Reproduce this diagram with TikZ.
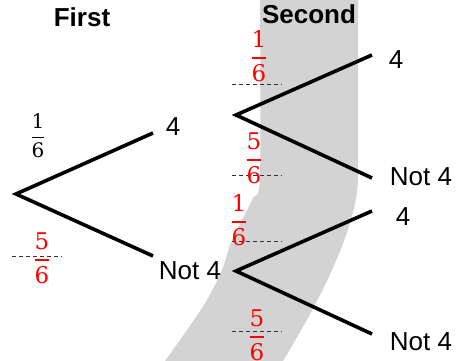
\documentclass[tikz,border=0pt]{standalone}
\usepackage{amsmath}
\usepackage{fontspec}
\setmainfont{Liberation Sans}
\newfontfamily\fracfont{DejaVu Serif}
\definecolor{bandgray}{RGB}{211,211,211}
% fraction with heavier serif digits and a firmer bar
\newcommand\frc[2]{\ensuremath{\genfrac{}{}{1.6pt}{0}{\mbox{\fracfont#1}}{\mbox{\fracfont#2}}}}
\begin{document}
\begin{tikzpicture}[x=1pt,y=-1pt,
  branch/.style={line width=3.6pt, line join=miter},
  lbl/.style={inner sep=0pt, font=\fontsize{26}{30}\selectfont},
  head/.style={inner sep=0pt, font=\fontsize{26}{30}\selectfont\bfseries},
  prob/.style={inner sep=0pt, text=red, font=\fontsize{23}{28}\selectfont},
  probk/.style={inner sep=0pt, font=\fontsize{20}{24}\selectfont},
  guide/.style={line width=0.9pt, dash pattern=on 4pt off 3pt, black!80}]
\useasboundingbox (0,0) rectangle (459,361);
\fill[white] (0,0) rectangle (459,361);
% grey band behind the second column
\fill[bandgray] plot[smooth] coordinates {(260,0) (260,175) (252,200) (232,240) (222,270) (207,300) (187,330) (165,361)}
  -- (283,361) .. controls (320,300) and (356,230) .. (358,180) -- (358,0) -- cycle;

% headings
\node[head] (h1) at (82,17) {First};
\node[head] (h2) at (309,14) {Second};

% first stage
\coordinate (r0) at (16,194);
\coordinate (a4) at (153,133);
\coordinate (an) at (153,256);
\node[lbl] (l4) at (173,127) {4};
\node[lbl] (ln) at (190,271) {Not 4};
\draw[branch] (a4) -- (r0) -- (an);

% second stage, after 4
\coordinate (r1) at (236,115);
\coordinate (b4) at (372,55);
\coordinate (bn) at (372,178);
\node[lbl] (m4) at (396,60) {4};
\node[lbl] (mn) at (421,177) {Not 4};
\draw[branch] (b4) -- (r1) -- (bn);

% second stage, after Not 4
\coordinate (r2) at (236,271);
\coordinate (c4) at (372,211);
\coordinate (cn) at (372,334);
\node[lbl] (n4) at (403,217) {4};
\node[lbl] (nn) at (421,342) {Not 4};
\draw[branch] (c4) -- (r2) -- (cn);

% dashed guide lines
\coordinate (d0a) at (12,256);  \coordinate (d0b) at (62,256);
\coordinate (d1a) at (232,84);  \coordinate (d1b) at (282,84);
\coordinate (d2a) at (232,175); \coordinate (d2b) at (282,175);
\coordinate (d3a) at (232,241); \coordinate (d3b) at (282,241);
\coordinate (d4a) at (232,331); \coordinate (d4b) at (282,331);
\draw[guide] (d0a) -- (d0b);
\draw[guide] (d1a) -- (d1b);
\draw[guide] (d2a) -- (d2b);
\draw[guide] (d3a) -- (d3b);
\draw[guide] (d4a) -- (d4b);

% probabilities
\node[probk] (p0) at (38,136) {\frc{1}{6}};
\node[prob] (q0) at (42,258) {\frc{5}{6}};
\node[prob] (p1) at (259,56) {\frc{1}{6}};
\node[prob] (q1) at (254,158) {\frc{5}{6}};
\node[prob] (p2) at (239,220) {\frc{1}{6}};
\node[prob] (q2) at (257,335) {\frc{5}{6}};
\end{tikzpicture}
\end{document}
